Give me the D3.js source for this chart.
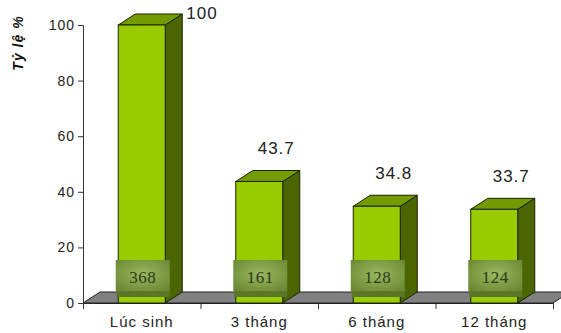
<!DOCTYPE html>
<html>
<head>
<meta charset="utf-8">
<script src="https://cdn.jsdelivr.net/npm/d3@7"></script>
<style>
  body { margin: 0; background: #fff; }
  svg text { font-family: Arial, "Liberation Sans", sans-serif; }
</style>
</head>
<body>
<div id="chart"></div>
<script>
// Tỷ lệ % theo thời điểm (3D bar chart)

const categories = ["Lúc sinh", "3 tháng", "6 tháng", "12 tháng"];
const rates = [100, 43.7, 34.8, 33.7];
const counts = [368, 161, 128, 124];
const yTicks = [0, 20, 40, 60, 80, 100];

const W = 561, H = 333;
const margin = { top: 25, left: 83 };
const plotRight = 553;
const depth = { dx: 17, dy: 11 };

const svg = d3.select("#chart")
    .append("svg")
    .attr("width", W)
    .attr("height", H);

// Scales
const x = d3.scaleBand()
    .domain(categories)
    .range([margin.left, plotRight])
    .paddingInner(0.6)
    .paddingOuter(0.3);

const xEdge = d3.scaleLinear().domain([0, categories.length]).range([margin.left, plotRight]);

const y = d3.scaleLinear().domain([0, 100]).range([303, margin.top]);
const y0 = y(0);

// Gradient for the count boxes
const defs = svg.append("defs");
const grad = defs.append("radialGradient")
    .attr("id", "boxGrad")
    .attr("cx", "50%").attr("cy", "45%").attr("r", "65%");
grad.append("stop").attr("offset", "0%").attr("stop-color", "#9ab85e");
grad.append("stop").attr("offset", "100%").attr("stop-color", "#6c8a34");

// Floor
svg.append("polygon")
    .attr("points", [
        [margin.left, y0],
        [margin.left + depth.dx, y0 - depth.dy],
        [plotRight + depth.dx, y0 - depth.dy],
        [plotRight, y0]
    ].map(p => p.join(",")).join(" "))
    .attr("fill", "#808080")
    .attr("stroke", "#222")
    .attr("stroke-width", 1);

// Y axis
const yAxis = svg.append("g")
    .attr("transform", `translate(${margin.left},0)`)
    .call(d3.axisLeft(y).tickValues(yTicks).tickSize(5).tickPadding(3));
yAxis.select(".domain").attr("stroke", "#333");
yAxis.selectAll(".tick line").attr("stroke", "#333");
yAxis.selectAll("text")
    .attr("font-size", 14)
    .attr("letter-spacing", "1px")
    .attr("fill", "#222");

// X axis: ticks at category boundaries, labels centred in bands
const xAxis = svg.append("g")
    .attr("transform", `translate(0,${y0})`)
    .call(d3.axisBottom(xEdge).tickValues(d3.range(categories.length + 1)).tickSize(6).tickFormat(""));
xAxis.select(".domain").attr("stroke", "#222");
xAxis.selectAll(".tick line").attr("stroke", "#333");

svg.append("g")
    .selectAll("text")
    .data(categories)
    .enter()
    .append("text")
    .attr("x", d => x(d) + x.bandwidth() / 2)
    .attr("y", 322)
    .attr("dy", "0.35em")
    .attr("text-anchor", "middle")
    .attr("font-size", 15)
    .attr("letter-spacing", "1px")
    .attr("fill", "#222")
    .text(d => d);

// Y title
svg.append("text")
    .attr("transform", "translate(18,43) rotate(-90)")
    .attr("text-anchor", "middle")
    .attr("dy", "0.35em")
    .attr("font-size", 14)
    .attr("font-weight", "bold")
    .attr("font-style", "italic")
    .attr("letter-spacing", "1px")
    .attr("fill", "#111")
    .text("Tỷ lệ %");

// Bars
const barData = categories.map((c, i) => ({ cat: c, rate: rates[i], count: counts[i] }));

const bars = svg.append("g")
    .selectAll("g")
    .data(barData)
    .enter()
    .append("g");

const pts = arr => arr.map(p => p.join(",")).join(" ");

bars.append("polygon") // side
    .attr("points", d => {
        const x1 = x(d.cat) + x.bandwidth(), yt = y(d.rate);
        return pts([[x1, yt], [x1 + depth.dx, yt - depth.dy], [x1 + depth.dx, y0 - depth.dy], [x1, y0]]);
    })
    .attr("fill", "#4b6600")
    .attr("stroke", "#1a2200")
    .attr("stroke-width", 1);

bars.append("polygon") // top
    .attr("points", d => {
        const x0 = x(d.cat), x1 = x0 + x.bandwidth(), yt = y(d.rate);
        return pts([[x0, yt], [x0 + depth.dx, yt - depth.dy], [x1 + depth.dx, yt - depth.dy], [x1, yt]]);
    })
    .attr("fill", "#729b00")
    .attr("stroke", "#1a2200")
    .attr("stroke-width", 1);

bars.append("rect") // front
    .attr("x", d => x(d.cat))
    .attr("y", d => y(d.rate))
    .attr("width", x.bandwidth())
    .attr("height", d => y0 - y(d.rate))
    .attr("fill", "#99cc00")
    .attr("stroke", "#1a2200")
    .attr("stroke-width", 1);

// Value labels above the back face
bars.append("text")
    .each(function (d) {
        const x0 = x(d.cat), x1 = x0 + x.bandwidth();
        let ly = y(d.rate) - depth.dy - 22;
        let lx = (x0 + x1) / 2 + depth.dx;
        let anchor = "middle";
        if (ly < 14) {
            ly = 13.5;
            lx = x1 + depth.dx + 4;
            anchor = "start";
        }
        d3.select(this)
            .attr("x", lx)
            .attr("y", ly)
            .attr("text-anchor", anchor);
    })
    .attr("dy", "0.35em")
    .attr("font-size", 17)
    .attr("letter-spacing", "1px")
    .attr("fill", "#222")
    .text(d => d.rate);

// Count boxes
const boxW = 54, boxH = 31, boxTop = 260;
const boxes = bars.append("g")
    .attr("transform", d => `translate(${x(d.cat) + x.bandwidth() / 2 - boxW / 2 + 1},${boxTop})`);

boxes.append("rect")
    .attr("x", 1).attr("y", boxH - 1)
    .attr("width", boxW - 1).attr("height", 7)
    .attr("fill", "#5a7628");

boxes.append("rect")
    .attr("width", boxW).attr("height", boxH)
    .attr("fill", "url(#boxGrad)");

boxes.append("text")
    .attr("x", boxW / 2)
    .attr("y", boxH / 2 + 2)
    .attr("dy", "0.35em")
    .attr("text-anchor", "middle")
    .style("font-family", "'Liberation Serif', 'DejaVu Serif', serif")
    .attr("font-size", 17)
    .attr("letter-spacing", "0.5px")
    .attr("fill", "#2b3a1c")
    .text(d => d.count);
</script>
</body>
</html>
